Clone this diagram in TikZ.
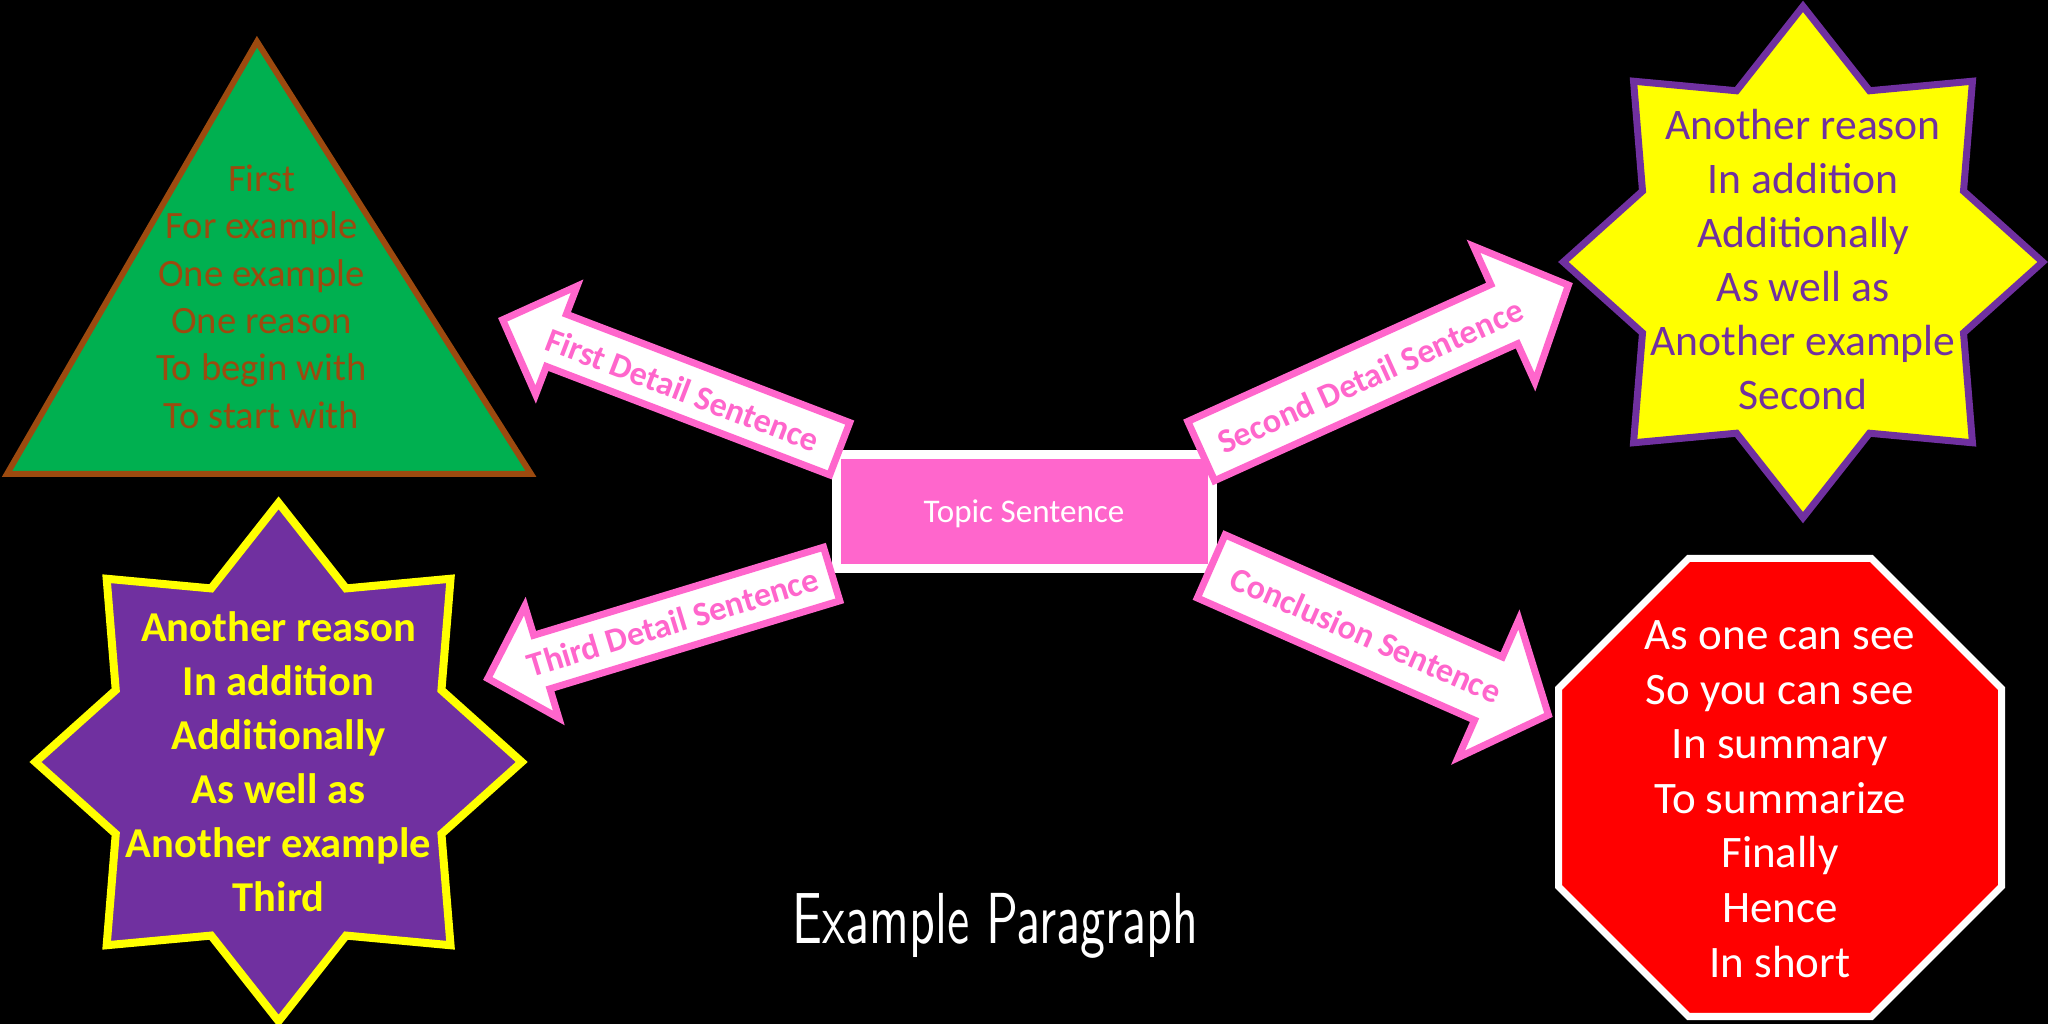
\documentclass[tikz,border=0pt]{standalone}
\usepackage{fontspec}
\setmainfont{Carlito}
\usepackage{graphicx}
\definecolor{pinkc}{HTML}{FF66CC}
\definecolor{greenc}{HTML}{00B050}
\definecolor{brownc}{HTML}{9C4A0F}
\definecolor{purplec}{HTML}{7030A0}
\definecolor{yellowc}{HTML}{FFFF00}
\definecolor{redc}{HTML}{FF0000}
\tikzset{
  arrowbox/.style={draw=pinkc, fill=white, line width=0.07cm, line join=miter},
  arrowtext/.style={text=pinkc, inner sep=0pt, font=\bfseries\fontsize{9.7pt}{11pt}\selectfont},
  trishape/.style={draw=brownc, fill=greenc, line width=0.06cm, line join=miter},
  pstarshape/.style={draw=yellowc, fill=purplec, line width=0.08cm, line join=miter},
  ystarshape/.style={draw=purplec, fill=yellowc, line width=0.07cm, line join=miter},
  octshape/.style={draw=white, fill=redc, line width=0.07cm, line join=miter},
  topicbox/.style={draw=white, fill=pinkc, line width=0.09cm, minimum width=3.76cm, minimum height=1.14cm, inner sep=0pt},
  tritext/.style={text=brownc, anchor=base, inner sep=0pt, font=\fontsize{11pt}{13pt}\selectfont},
  pstartext/.style={text=yellowc, anchor=base, inner sep=0pt, font=\bfseries\fontsize{12.1pt}{14pt}\selectfont},
  ystartext/.style={text=purplec, anchor=base, inner sep=0pt, font=\fontsize{12.4pt}{14pt}\selectfont},
  octtext/.style={text=white, anchor=base, inner sep=0pt, font=\fontsize{12.8pt}{15pt}\selectfont},
  topictext/.style={text=white, anchor=base, inner sep=0pt, font=\fontsize{9.4pt}{11pt}\selectfont},
}
% #1 tail coordinate, #2 angle, #3 outer length, #4 outer shaft width, #5 outer head width, #6 outer head length
\newcommand\blockarrow[6]{%
  \pgfmathsetmacro\baHalf{(#4-7)/2}%
  \pgfmathsetmacro\bhHalf{(#5-7)/2-2}%
  \pgfmathsetmacro\bBase{#3-#6+3.5}%
  \pgfmathsetmacro\bTip{#3-5}%
  \draw[arrowbox, shift={#1}, rotate=#2]
    (3.5,-\baHalf) -- (\bBase,-\baHalf) -- (\bBase,-\bhHalf) -- (\bTip,0)
    -- (\bBase,\bhHalf) -- (\bBase,\baHalf) -- (3.5,\baHalf) -- cycle;}
\begin{document}
\begin{tikzpicture}[x=0.01cm, y=0.01cm]
  \fill[black] (0,0) rectangle (2048,1024);
  \useasboundingbox (0,0) rectangle (2048,1024);

  % green triangle
  \draw[trishape] (257,982.3) -- (7,550) -- (531,550) -- cycle;
  \foreach \t [count=\i from 0] in {First, For example, One example, One reason, To begin with, To start with}
    \node[tritext] (tri\i) at (261.6, {832.3-47.3*\i}) {\t};

  % purple star
  \begin{scope}[shift={(278.6,262)}, x=2.43cm, y=2.59cm]
    \draw[pstarshape] (0:1) \foreach \a in {0,45,...,315} { -- ({\a+22.5}:0.725) -- ({\a+45}:1) } -- cycle;
  \end{scope}
  \foreach \t [count=\i from 0] in {Another reason, In addition, Additionally, As well as, Another example, Third}
    \node[pstartext] (ps\i) at (278.6, {382.7-54.1*\i}) {\t};

  % yellow star
  \begin{scope}[shift={(1803,762)}, x=2.395cm, y=2.555cm]
    \draw[ystarshape] (0:1) \foreach \a in {0,45,...,315} { -- ({\a+22.5}:0.725) -- ({\a+45}:1) } -- cycle;
  \end{scope}
  \foreach \t [count=\i from 0] in {Another reason, In addition, Additionally, As well as, Another example, Second}
    \node[ystartext] (ys\i) at (1803, {884.5-54.05*\i}) {\t};

  % red octagon
  \draw[octshape] (1688.5,465.5) -- (1871.5,465.5) -- (2001.5,335.5) -- (2001.5,137.5)
    -- (1871.5,7.5) -- (1688.5,7.5) -- (1558.5,137.5) -- (1558.5,335.5) -- cycle;
  \foreach \t [count=\i from 0] in {As one can see, So you can see, In summary, To summarize, Finally, Hence, In short}
    \node[octtext] (oc\i) at (1780, {374-54.5*\i}) {\t};

  % topic sentence
  \node[topicbox] (topic) at (1024.5,512.5) {};
  \node[topictext] (topiclabel) at (1024,501) {Topic Sentence};

  % block arrows
  \coordinate (a1) at (843,574);
  \coordinate (a2) at (1198,571.5);
  \coordinate (a3) at (835,451);
  \coordinate (a4) at (1208,459);
  \blockarrow{(a1)}{159.06}{369.4}{63}{127}{66}
  \blockarrow{(a2)}{24.32}{411.5}{72}{160}{79}
  \blockarrow{(a3)}{196.9}{367.9}{63}{128}{65}
  \blockarrow{(a4)}{-23.78}{377}{76}{162}{74}
  \node[arrowtext, rotate=-20.94] (l1) at (683,634) {First Detail Sentence};
  \node[arrowtext, rotate=24.32] (l2) at (1370,648) {Second Detail Sentence};
  \node[arrowtext, rotate=16.9] (l3) at (673,402) {Third Detail Sentence};
  \node[arrowtext, rotate=-23.78] (l4) at (1366,389) {Conclusion Sentence};

  % title
  \node[text=white, inner sep=0pt] (title) at (995.5,98.5) {\resizebox*{4.05cm}{0.65cm}{\sffamily Example Paragraph}};
\end{tikzpicture}
\end{document}
